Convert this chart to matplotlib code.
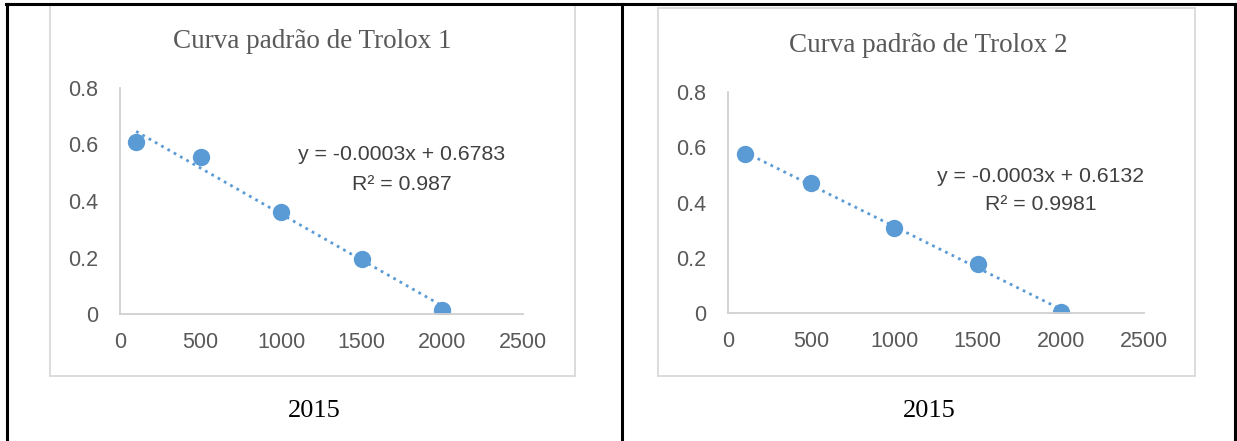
import matplotlib
matplotlib.use("Agg")
import matplotlib.pyplot as plt
import numpy as np
from matplotlib.patches import Rectangle
from matplotlib.lines import Line2D

# donnees
conc = [100, 500, 1000, 1500, 2000]
abs1 = [0.61, 0.557, 0.36, 0.195, 0.014]
abs2 = [0.576, 0.469, 0.309, 0.176, 0.005]
titres = ["Curva padrão de Trolox 1", "Curva padrão de Trolox 2"]
equations = ["y = -0.0003x + 0.6783", "y = -0.0003x + 0.6132"]
r2 = ["R² = 0.987", "R² = 0.9981"]
annee = "2015"
xticks = [0, 500, 1000, 1500, 2000, 2500]
yticks = [0, 0.2, 0.4, 0.6, 0.8]

W, H = 1237, 441
fig = plt.figure(figsize=(W / 100, H / 100), dpi=100)
bleu = "#5b9bd5"
gris = "#595959"

def fx(px):
    return px / W

def fy(py):
    return 1 - py / H

# cadres du tableau
for (x0, y0, x1, y1) in [(6, 4, 1237, 4), (7, 4, 7, 441), (622, 4, 622, 441), (1235, 4, 1235, 441)]:
    fig.add_artist(Line2D([fx(x0), fx(x1)], [fy(y0), fy(y1)], color="black", lw=2.2))

# cadres des graphiques
for (x0, y0, x1, y1) in [(50, 5, 575, 376), (658, 8, 1195, 376)]:
    fig.add_artist(Rectangle((fx(x0), fy(y1)), fx(x1 - x0), (y1 - y0) / H,
                             fill=False, edgecolor="#d9d9d9", lw=1.3))

# positions des axes en pixels: gauche, droite, haut, bas
boites = [(120, 523, 88, 314), (728, 1144, 92, 313)]
series = [abs1, abs2]
titre_pos = [(312, 42), (928, 46)]
eq_pos = [(402, 155, 184), (1041, 176, 205)]
annee_pos = [(314, 411), (929, 411)]

for i in range(2):
    l, r, t, b = boites[i]
    ax = fig.add_axes([fx(l), fy(b), fx(r - l), (b - t) / H])
    y = series[i]
    a, c = np.polyfit(conc, y, 1)
    xs = np.array([conc[0], conc[-1]])
    ax.plot(xs, a * xs + c, color=bleu, lw=2.0, linestyle=(0, (1, 1.6)))
    ax.plot(conc, y, "o", color=bleu, markersize=12.5, markeredgewidth=0)
    ax.set_xlim(0, 2500)
    ax.set_ylim(0, 0.8)
    ax.set_xticks(xticks)
    ax.set_xticklabels([str(v) for v in xticks])
    ax.set_yticks(yticks)
    ax.set_yticklabels(["0", "0.2", "0.4", "0.6", "0.8"])
    for s in ["top", "right"]:
        ax.spines[s].set_visible(False)
    for s in ["left", "bottom"]:
        ax.spines[s].set_color("#d0d0d0")
        ax.spines[s].set_linewidth(1.3)
    ax.tick_params(length=0, colors=gris, labelsize=15.5)
    ax.tick_params(axis="x", pad=13)
    ax.tick_params(axis="y", pad=16)
    for lab in ax.get_xticklabels() + ax.get_yticklabels():
        lab.set_fontfamily("Liberation Sans")
    ax.patch.set_visible(False)

    tx, ty = titre_pos[i]
    fig.text(fx(tx), fy(ty), titres[i], ha="center", va="center",
             family="Liberation Serif", fontsize=19.5, color=gris)
    ex, ey1, ey2 = eq_pos[i]
    fig.text(fx(ex), fy(ey1), equations[i], ha="center", va="center",
             family="Liberation Sans", fontsize=15.3, color="#404040")
    fig.text(fx(ex), fy(ey2), r2[i], ha="center", va="center",
             family="Liberation Sans", fontsize=15.3, color="#404040")
    axx, ayy = annee_pos[i]
    fig.text(fx(axx), fy(ayy), annee, ha="center", va="center",
             family="Liberation Serif", fontsize=19, color="black")

fig.savefig("out.png", dpi=100)
